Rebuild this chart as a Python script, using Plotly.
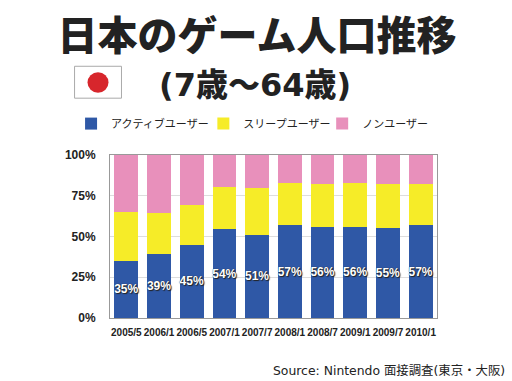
import plotly.graph_objects as go

W, H = 512, 381
L, R, T, B = 110, 437.5, 154.5, 318

periods = ["2005/5", "2006/1", "2006/5", "2007/1", "2007/7", "2008/1", "2008/7", "2009/1", "2009/7", "2010/1"]
active = [35, 39, 45, 54.5, 51, 57, 56, 56, 55, 57]
sleep = [30, 25.5, 24.5, 26, 29, 26, 26.5, 27, 27.5, 25.5]
non_user = [35, 35.5, 30.5, 19.5, 20, 17, 17.5, 17, 17.5, 17.5]
active_labels = ["35%", "39%", "45%", "54%", "51%", "57%", "56%", "56%", "55%", "57%"]
tick_vals = [0, 25, 50, 75, 100]
tick_text = ["0%", "25%", "50%", "75%", "100%"]

JP = "Noto Sans CJK JP"
LAT = "Liberation Sans"
WIDE = "DejaVu Sans, Noto Sans CJK JP"
INK = "#222222"


def px(x):
    return (x - L) / (R - L)


def py(y):
    return (B - y) / (B - T)


def legend_at(x):
    return dict(orientation="h", x=px(x), xanchor="left", y=py(123), yanchor="middle",
                font=dict(family=JP, size=11, color=INK), bgcolor="rgba(0,0,0,0)",
                itemclick=False, itemdoubleclick=False)


fig = go.Figure()
fig.add_bar(x=periods, y=active, name="アクティブユーザー", marker=dict(color="#2f58a6", line_width=0),
            legend="legend",
            text=active_labels, textposition="inside", insidetextanchor="middle", textangle=0,
            constraintext="none",
            textfont=dict(family=LAT, size=12, weight=700, color="white",
                          shadow="1px 1px 1px #222, 0 0 1px #222"))
fig.add_bar(x=periods, y=sleep, name="スリープユーザー", marker=dict(color="#f6ec28", line_width=0),
            legend="legend2")
fig.add_bar(x=periods, y=non_user, name="ノンユーザー", marker=dict(color="#e890bb", line_width=0),
            legend="legend3")

fig.update_layout(
    width=W, height=H, autosize=False, barmode="stack", bargap=0.27,
    paper_bgcolor="white", plot_bgcolor="white",
    margin=dict(l=L, r=W - R, t=T, b=H - B, autoexpand=False),
    font=dict(family=JP, color=INK),
    showlegend=True,
    title=dict(text="日本のゲーム人口推移", x=257 / W, xanchor="center", y=1 - 36 / H, yanchor="middle",
               font=dict(family=JP, size=40, weight=900, color=INK)),
    legend=legend_at(71),
    legend2=legend_at(203.5),
    legend3=legend_at(322.5),
    xaxis=dict(type="category", categoryorder="array", categoryarray=periods, showgrid=False,
               showline=True, linecolor="#999999", linewidth=1, mirror=True, ticks="",
               ticklabelstandoff=5,
               tickangle=0, tickfont=dict(family=LAT, size=10, weight=700, color=INK)),
    yaxis=dict(range=[0, 100], tickvals=tick_vals, ticktext=tick_text, showgrid=True,
               gridcolor="#dddddd", gridwidth=1, showline=True, linecolor="#999999", linewidth=1,
               mirror=True, ticks="", ticklabelstandoff=11,
               tickfont=dict(family=LAT, size=12, weight=700, color=INK)),
    annotations=[
        dict(text="(7歳〜64歳)", xref="paper", yref="paper", x=px(255), y=py(84), xanchor="center",
             yanchor="middle", showarrow=False,
             font=dict(family=WIDE, size=32, weight=900, color=INK)),
        dict(text="Source: Nintendo 面接調査(東京・大阪)", xref="paper", yref="paper", x=px(508), y=py(371),
             xanchor="right", yanchor="middle", showarrow=False,
             font=dict(family=WIDE, size=12.4, color=INK)),
    ],
    shapes=[
        dict(type="rect", xref="paper", yref="paper", x0=px(74.5), x1=px(121.5), y0=py(65.5), y1=py(97.5),
             fillcolor="white", line=dict(color="#aaaaaa", width=1)),
        dict(type="circle", xref="paper", yref="paper", x0=px(87.5), x1=px(108.5), y0=py(71.5), y1=py(92),
             fillcolor="#d7262c", line=dict(width=0)),
    ],
)

fig.write_html("out.html", post_script="document.body.style.margin='0';",
               config={"displayModeBar": False})
